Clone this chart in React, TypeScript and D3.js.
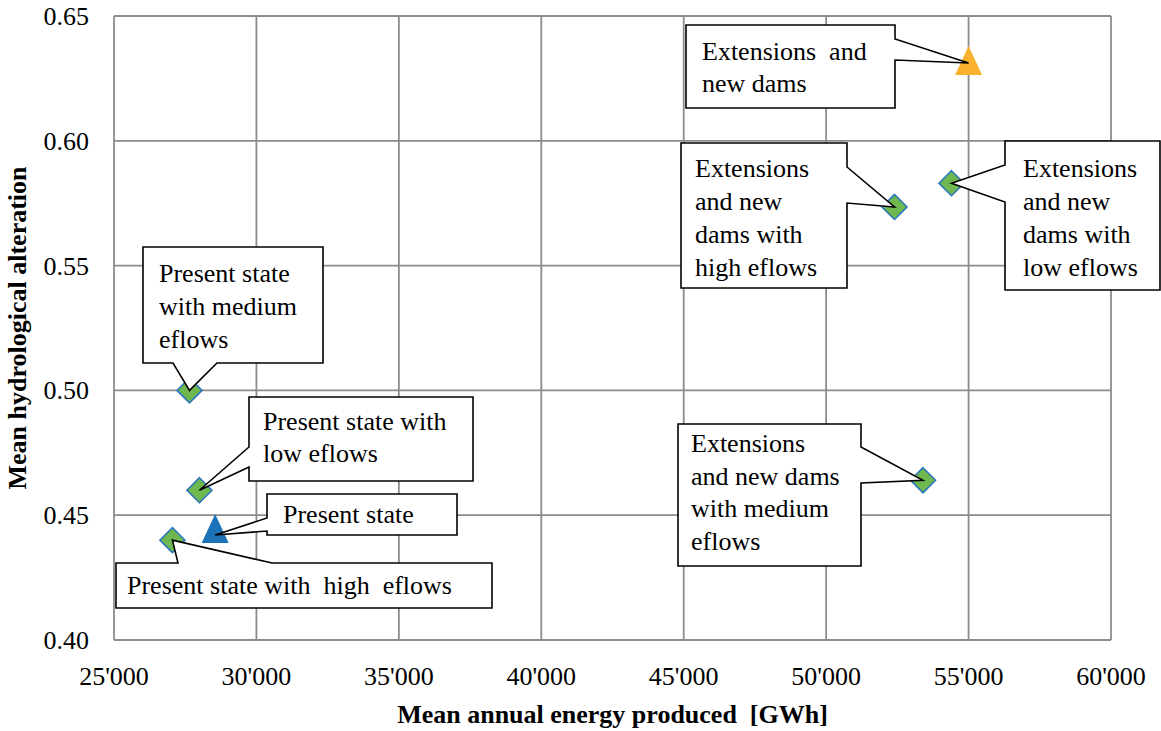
import React from "react";
import * as d3 from "d3";

// ---- data ----
const pointNames = [
  "Present state",
  "Present state with high eflows",
  "Present state with low eflows",
  "Present state with medium eflows",
  "Extensions and new dams",
  "Extensions and new dams with high eflows",
  "Extensions and new dams with low eflows",
  "Extensions and new dams with medium eflows",
];
const energyGWh = [28550, 27050, 28000, 27650, 55000, 52400, 54400, 53400];
const hydroAlteration = [0.4445, 0.44, 0.46, 0.5, 0.632, 0.5735, 0.583, 0.464];
const markerType = ["triBlue", "diamond", "diamond", "diamond", "triOrange", "diamond", "diamond", "diamond"];

const xTicks = [25000, 30000, 35000, 40000, 45000, 50000, 55000, 60000];
const yTicks = [0.4, 0.45, 0.5, 0.55, 0.6, 0.65];

// ---- callout layout (pixel boxes, pointer edge/base) ----
type Callout = {
  idx: number;
  box: [number, number, number, number]; // x0,y0,x1,y1
  edge: "top" | "right" | "bottom" | "left";
  base: [number, number];
  lines: string[];
  textX: number;
  firstBaseline: number;
  lineGap: number;
  tipDy?: number;
};
const callouts: Callout[] = [
  { idx: 0, box: [267, 494, 457, 535], edge: "left", base: [518, 531], lines: ["Present state"], textX: 283, firstBaseline: 523, lineGap: 33, tipDy: 6 },
  { idx: 1, box: [116, 563, 492, 608], edge: "top", base: [178, 272], lines: ["Present state with  high  eflows"], textX: 127, firstBaseline: 594, lineGap: 33 },
  { idx: 2, box: [249, 397, 473, 481], edge: "left", base: [447, 467], lines: ["Present state with", "low eflows"], textX: 263, firstBaseline: 430, lineGap: 32 },
  { idx: 3, box: [143, 247, 323, 363], edge: "bottom", base: [173, 217], lines: ["Present state", "with medium", "eflows"], textX: 159, firstBaseline: 282, lineGap: 33 },
  { idx: 4, box: [686, 25, 895, 108], edge: "right", base: [39, 60], lines: ["Extensions  and", "new dams"], textX: 702, firstBaseline: 60, lineGap: 32, tipDy: 2 },
  { idx: 5, box: [681, 143, 847, 288], edge: "right", base: [167, 203], lines: ["Extensions", "and new", "dams with", "high eflows"], textX: 695, firstBaseline: 177, lineGap: 33 },
  { idx: 6, box: [1005, 141, 1160, 290], edge: "left", base: [165, 202], lines: ["Extensions", "and new", "dams with", "low eflows"], textX: 1023, firstBaseline: 177, lineGap: 33 },
  { idx: 7, box: [678, 424, 861, 566], edge: "right", base: [447, 483], lines: ["Extensions", "and new dams", "with medium", "eflows"], textX: 691, firstBaseline: 452, lineGap: 32.5 },
];

const W = 1161;
const H = 731;
const plot = { left: 114, right: 1111, top: 16, bottom: 640 };
const FONT = '"Liberation Serif", serif';
const FS = 26;
const GRID = "#8c8c8c";
const GREEN = "#6fb84f";
const BLUE_EDGE = "#2a77bd";
const BLUE_TRI = "#1b72b8";
const ORANGE = "#fab12d";

function calloutPath(c: Callout, tip: [number, number]): string {
  const [x0, y0, x1, y1] = c.box;
  const [b1, b2] = c.base;
  let pts: [number, number][] = [];
  if (c.edge === "top") pts = [[x0, y0], [b1, y0], tip, [b2, y0], [x1, y0], [x1, y1], [x0, y1]];
  else if (c.edge === "right") pts = [[x0, y0], [x1, y0], [x1, b1], tip, [x1, b2], [x1, y1], [x0, y1]];
  else if (c.edge === "bottom") pts = [[x0, y0], [x1, y0], [x1, y1], [b2, y1], tip, [b1, y1], [x0, y1]];
  else pts = [[x0, y0], [x1, y0], [x1, y1], [x0, y1], [x0, b2], tip, [x0, b1]];
  return "M" + pts.map((p) => p.join(",")).join("L") + "Z";
}

const txt: React.CSSProperties = { fontFamily: FONT, whiteSpace: "pre" };

export default function App() {
  const x = d3.scaleLinear().domain([25000, 60000]).range([plot.left, plot.right]);
  const y = d3.scaleLinear().domain([0.4, 0.65]).range([plot.bottom, plot.top]);
  const fmtX = (v: number) => {
    const s = d3.format("d")(v);
    return s.slice(0, s.length - 3) + "'" + s.slice(-3);
  };
  const fmtY = d3.format(".2f");

  const diamond = (cx: number, cy: number, r: number) =>
    `M${cx},${cy - r}L${cx + r},${cy}L${cx},${cy + r}L${cx - r},${cy}Z`;
  const triangle = (cx: number, cy: number) =>
    `M${cx},${cy - 15}L${cx + 13.5},${cy + 14}L${cx - 13.5},${cy + 14}Z`;

  return (
    <svg width={W} height={H} style={{ position: "absolute", left: 0, top: 0, background: "#fff" }}>
      {/* grid */}
      {xTicks.map((t) => (
        <line key={"gx" + t} x1={x(t)} x2={x(t)} y1={plot.top} y2={plot.bottom} stroke={GRID} strokeWidth={1.8} />
      ))}
      {yTicks.map((t) => (
        <line key={"gy" + t} x1={plot.left} x2={plot.right} y1={y(t)} y2={y(t)} stroke={GRID} strokeWidth={1.8} />
      ))}
      {/* tick labels */}
      {xTicks.map((t) => (
        <text key={"tx" + t} x={x(t)} y={plot.bottom + 45} textAnchor="middle" fontSize={FS} fill="#000" style={txt}>
          {fmtX(t)}
        </text>
      ))}
      {yTicks.map((t) => (
        <text key={"ty" + t} x={89} y={y(t) + 9} textAnchor="end" fontSize={FS} fill="#000" style={txt}>
          {fmtY(t)}
        </text>
      ))}
      {/* axis titles */}
      <text x={(plot.left + plot.right) / 2} y={723} textAnchor="middle" fontSize={FS} fontWeight="bold" fill="#000" style={txt}>
        {"Mean annual energy produced  [GWh]"}
      </text>
      <text
        transform={`translate(26,${(plot.top + plot.bottom) / 2}) rotate(-90)`}
        textAnchor="middle"
        fontSize={FS}
        fontWeight="bold"
        fill="#000"
        style={txt}
      >
        Mean hydrological alteration
      </text>
      {/* markers */}
      {energyGWh.map((e, i) => {
        const cx = x(e);
        const cy = y(hydroAlteration[i]);
        if (markerType[i] === "diamond")
          return <path key={"m" + i} d={diamond(cx, cy, 12.5)} fill={GREEN} stroke={BLUE_EDGE} strokeWidth={1.6} />;
        return (
          <path key={"m" + i} d={triangle(cx, cy)} fill={markerType[i] === "triBlue" ? BLUE_TRI : ORANGE} />
        );
      })}
      {/* callouts */}
      {callouts.map((c, k) => {
        const tip: [number, number] = [x(energyGWh[c.idx]), y(hydroAlteration[c.idx]) + (c.tipDy || 0)];
        return (
          <g key={"c" + k}>
            <path d={calloutPath(c, tip)} fill="#fff" stroke="#000" strokeWidth={1.6} strokeLinejoin="miter" />
            {c.lines.map((ln, j) => (
              <text key={j} x={c.textX} y={c.firstBaseline + j * c.lineGap} fontSize={FS} fill="#000" style={txt}>
                {ln}
              </text>
            ))}
          </g>
        );
      })}
      <title>{pointNames.join(", ")}</title>
    </svg>
  );
}
